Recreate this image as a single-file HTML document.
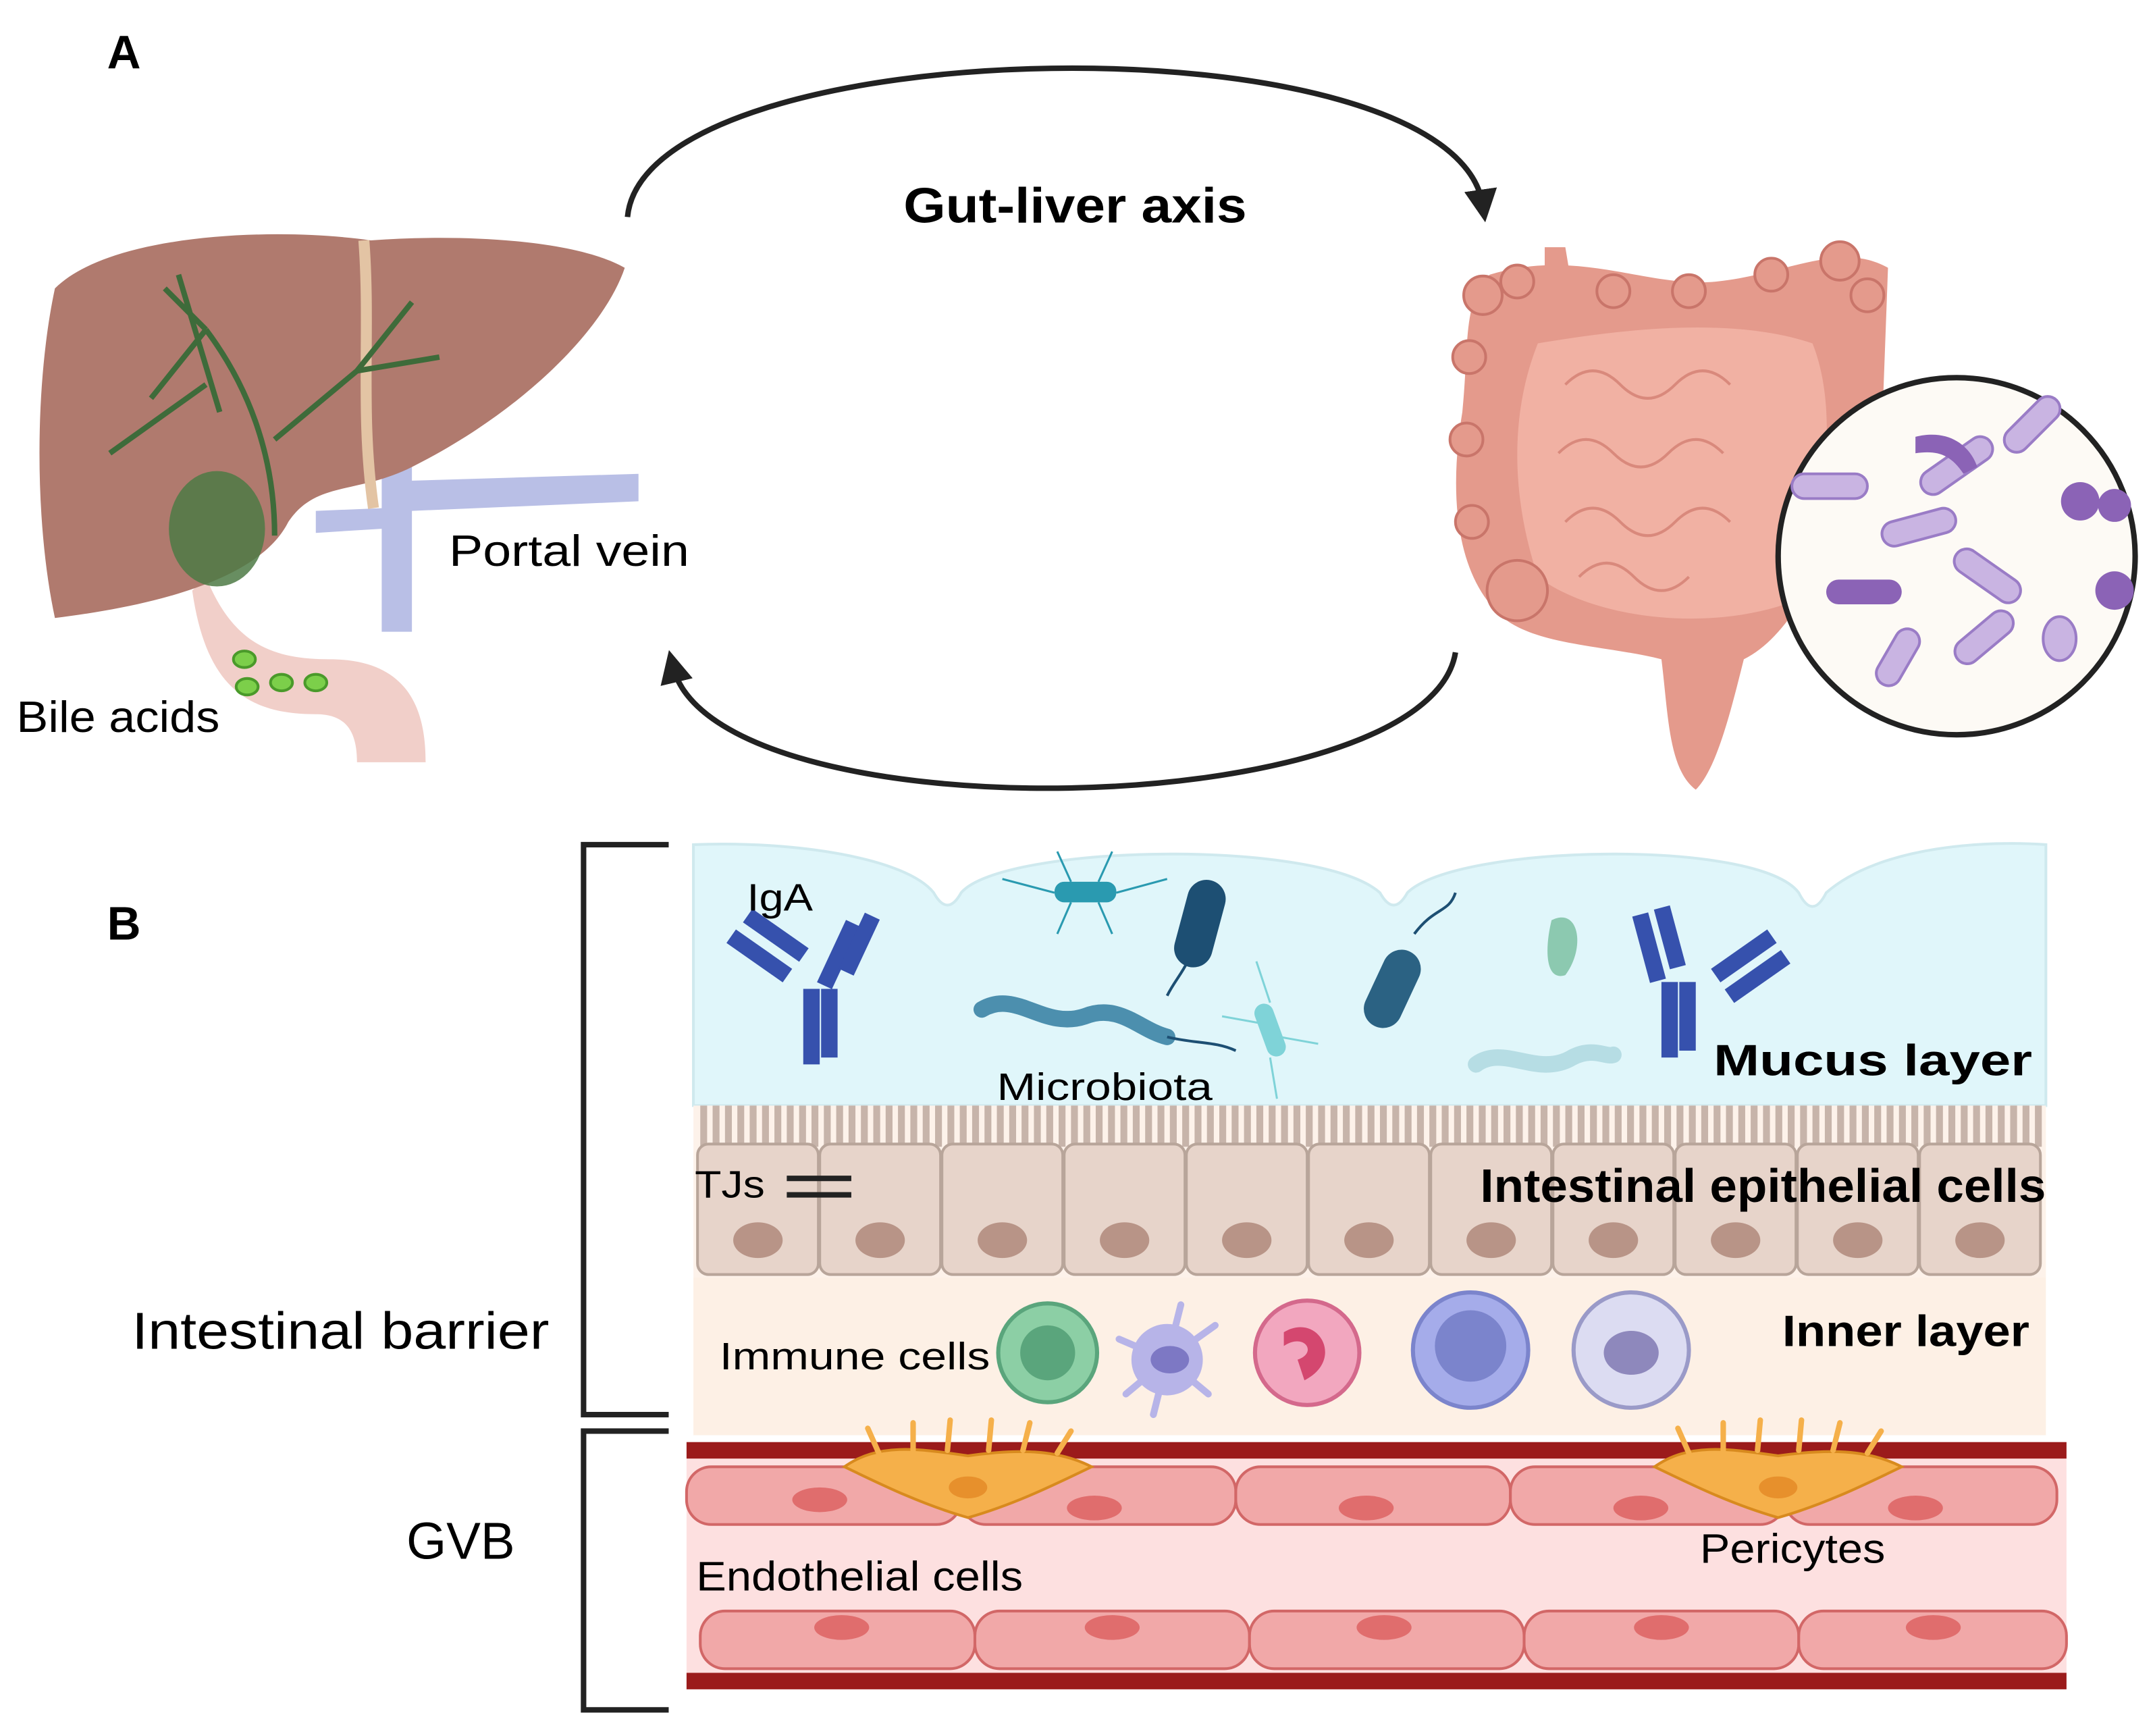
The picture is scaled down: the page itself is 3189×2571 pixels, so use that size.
<!DOCTYPE html>
<html><head><meta charset="utf-8"><style>html,body{margin:0;padding:0;background:#fff}svg{display:block}text{font-family:"Liberation Sans",sans-serif}</style></head><body>
<svg width="3189" height="2571" viewBox="0 0 1568 1264" preserveAspectRatio="none" xmlns="http://www.w3.org/2000/svg">
<defs>
<marker id="ah" markerWidth="6" markerHeight="6" refX="3" refY="3" orient="auto" markerUnits="strokeWidth"><path d="M0,0 L6,3 L0,6 Z" fill="#222"/></marker>
</defs>
<rect width="1568" height="1264" fill="#fff"/>
<!-- Panel A -->
<text x="78" y="50" font-size="34" font-weight="bold">A</text>
<path d="M457,158 C470,20 1060,10 1080,150" fill="none" stroke="#222" stroke-width="4" marker-end="url(#ah)"/>
<text x="658" y="162" font-size="36" font-weight="bold" textLength="250" lengthAdjust="spacingAndGlyphs">Gut-liver axis</text>
<path d="M1060,475 C1040,600 520,610 490,485" fill="none" stroke="#222" stroke-width="4" marker-end="url(#ah)"/>
<!-- duodenum -->
<path d="M150,420 C170,470 200,480 240,480 C300,480 310,520 310,555 L260,555 C260,530 250,520 230,520 C180,520 150,500 140,430 Z" fill="#f1cfc9"/>
<!-- portal vein -->
<path d="M278,330 L300,330 L300,350 L465,345 L465,365 L300,372 L300,460 L278,460 L278,385 L230,388 L230,372 L278,370 Z" fill="#b9bfe6"/>
<!-- liver -->
<path d="M40,210 C80,170 200,165 270,175 C340,170 420,175 455,195 C440,240 380,300 300,340 C260,360 230,350 210,380 C190,420 120,440 40,450 C25,380 25,280 40,210 Z" fill="#b07a6e"/>
<path d="M265,175 C270,240 262,300 272,370" stroke="#e3c4a4" stroke-width="8" fill="none"/>
<g stroke="#3e6b3a" stroke-width="4" fill="none">
<path d="M200,390 C200,330 180,280 150,240 M150,240 L120,210 M150,240 L110,290 M150,280 L80,330 M200,320 L260,270 L320,260 M260,270 L300,220 M160,300 L130,200"/>
</g>
<ellipse cx="158" cy="385" rx="35" ry="42" fill="#4d7a45" opacity="0.85"/>
<g fill="#7ccf4a" stroke="#4a9a2a" stroke-width="2">
<ellipse cx="178" cy="480" rx="8" ry="6"/><ellipse cx="180" cy="500" rx="8" ry="6"/><ellipse cx="205" cy="497" rx="8" ry="6"/><ellipse cx="230" cy="497" rx="8" ry="6"/></g>
<text x="327" y="412" font-size="32" textLength="175" lengthAdjust="spacingAndGlyphs">Portal vein</text>
<text x="12" y="533" font-size="32" textLength="148" lengthAdjust="spacingAndGlyphs">Bile acids</text>
<!-- intestines -->
<path d="M1085,200 C1150,180 1200,210 1250,205 C1300,200 1340,175 1375,195 L1370,330 C1330,400 1310,460 1270,480 C1260,520 1250,560 1235,575 C1215,560 1215,520 1210,480 C1170,470 1120,470 1095,450 C1060,420 1055,360 1065,300 C1070,250 1065,220 1085,200 Z" fill="#e49a8c"/>
<path d="M1120,250 C1180,240 1260,230 1320,250 C1340,300 1330,380 1300,440 C1240,460 1160,450 1120,420 C1100,360 1100,300 1120,250 Z" fill="#f1b1a3"/>
<g fill="#e49a8c" stroke="#c9756a" stroke-width="2">
<circle cx="1080" cy="215" r="14"/><circle cx="1105" cy="205" r="12"/><circle cx="1175" cy="212" r="12"/><circle cx="1230" cy="212" r="12"/><circle cx="1290" cy="200" r="12"/><circle cx="1340" cy="190" r="14"/><circle cx="1360" cy="215" r="12"/><circle cx="1070" cy="260" r="12"/><circle cx="1068" cy="320" r="12"/><circle cx="1072" cy="380" r="12"/><circle cx="1105" cy="430" r="22"/></g>
<g fill="none" stroke="#d9897c" stroke-width="2"><path d="M1140,280 q20,-20 40,0 t40,0 t40,0 M1135,330 q20,-20 40,0 t40,0 t40,0 M1140,380 q20,-20 40,0 t40,0 t40,0 M1150,420 q20,-20 40,0 t40,0"/></g>
<path d="M1125,180 L1140,180 L1145,210 L1125,210 Z" fill="#e49a8c"/>
<circle cx="1425" cy="405" r="130" fill="#fdfaf5" stroke="#222" stroke-width="4"/>
<g fill="#c9b4e2" stroke="#9a7cc6" stroke-width="2">
<rect x="1395" y="330" width="60" height="18" rx="9" transform="rotate(-35 1425 339)"/>
<rect x="1370" y="375" width="55" height="18" rx="9" transform="rotate(-15 1397 384)"/>
<rect x="1420" y="410" width="55" height="18" rx="9" transform="rotate(35 1447 419)"/>
<rect x="1305" y="345" width="55" height="18" rx="9"/>
<rect x="1420" y="455" width="50" height="18" rx="9" transform="rotate(-40 1445 464)"/>
<rect x="1360" y="470" width="45" height="18" rx="9" transform="rotate(-60 1382 479)"/>
<rect x="1455" y="300" width="50" height="18" rx="9" transform="rotate(-45 1480 309)"/>
<ellipse cx="1500" cy="465" rx="12" ry="16"/></g>
<g fill="#8b63b6"><rect x="1330" y="422" width="55" height="18" rx="9"/><path d="M1395,318 C1420,312 1435,325 1440,340 L1430,345 C1420,330 1410,328 1395,330 Z"/><circle cx="1515" cy="365" r="14"/><circle cx="1540" cy="368" r="12"/><circle cx="1540" cy="430" r="14"/></g>
<!-- Panel B -->
<text x="78" y="684" font-size="34" font-weight="bold">B</text>
<!-- mucus -->
<path d="M505,615 C580,612 660,625 680,650 Q690,668 700,650 C730,615 960,610 1005,650 Q1015,668 1025,650 C1060,615 1280,610 1310,650 Q1320,670 1330,650 C1370,615 1450,612 1490,615 L1490,805 L505,805 Z" fill="#e0f6fa" stroke="#cfe9ee" stroke-width="2"/>
<!-- bacteria -->
<g fill="#2a9ab0"><rect x="768" y="642" width="45" height="15" rx="7"/></g>
<g stroke="#2a9ab0" stroke-width="1.5"><path d="M768,650 L730,640 M813,650 L850,640 M780,642 L770,620 M800,642 L810,620 M780,657 L770,680 M800,657 L810,680"/></g>
<rect x="860" y="640" width="28" height="65" rx="14" fill="#1d4f73" transform="rotate(15 874 672)"/>
<rect x="1000" y="690" width="28" height="60" rx="14" fill="#2b6283" transform="rotate(25 1014 720)"/>
<rect x="918" y="730" width="14" height="40" rx="7" fill="#7fd3d8" transform="rotate(-20 925 750)"/>
<g stroke="#7fd3d8" stroke-width="1.5"><path d="M925,730 L915,700 M925,770 L930,800 M918,745 L890,740 M932,755 L960,760"/></g>
<path d="M1130,670 C1150,660 1155,690 1140,710 C1125,715 1125,690 1130,670 Z" fill="#8cc9b0"/>
<path d="M715,735 C740,720 760,750 790,740 C815,730 830,750 850,755" stroke="#4c8fae" stroke-width="12" fill="none" stroke-linecap="round"/>
<path d="M1075,775 C1095,760 1120,785 1145,770 C1160,762 1170,770 1175,768" stroke="#b6dde4" stroke-width="12" fill="none" stroke-linecap="round"/>
<g stroke="#1d4f73" stroke-width="2" fill="none"><path d="M865,700 C860,710 855,715 850,725"/><path d="M1030,680 C1045,660 1055,665 1060,650"/><path d="M850,755 C870,760 885,758 900,765"/></g>
<!-- IgA -->
<g fill="#3651ad">
<rect x="585" y="720" width="12" height="55"/><rect x="598" y="720" width="12" height="50"/>
<rect x="528" y="690" width="50" height="12" transform="rotate(35 553 696)"/><rect x="540" y="675" width="50" height="12" transform="rotate(35 565 681)"/>
<rect x="605" y="670" width="12" height="50" transform="rotate(25 611 695)"/><rect x="620" y="665" width="12" height="45" transform="rotate(25 626 687)"/>
<rect x="1210" y="715" width="12" height="55"/><rect x="1223" y="715" width="12" height="50"/>
<rect x="1195" y="665" width="12" height="50" transform="rotate(-15 1201 690)"/><rect x="1210" y="660" width="12" height="45" transform="rotate(-15 1216 682)"/>
<rect x="1245" y="690" width="50" height="12" transform="rotate(-35 1270 696)"/><rect x="1255" y="705" width="50" height="12" transform="rotate(-35 1280 711)"/>
</g>
<text x="544" y="663" font-size="28" textLength="48" lengthAdjust="spacingAndGlyphs">IgA</text>
<text x="726" y="801" font-size="28" textLength="157" lengthAdjust="spacingAndGlyphs">Microbiota</text>
<text x="1248" y="783" font-size="32" font-weight="bold" textLength="232" lengthAdjust="spacingAndGlyphs">Mucus layer</text>
<!-- epithelium -->
<rect x="505" y="805" width="985" height="125" fill="#fdf2ea"/>
<path d="M510,820 L1488,820" stroke="#c7b4aa" stroke-width="30" stroke-dasharray="5,4"/>
<g fill="#e7d4ca" stroke="#b8a59a" stroke-width="2">
<rect x="508" y="833" width="88" height="95" rx="8"/><rect x="597" y="833" width="88" height="95" rx="8"/><rect x="686" y="833" width="88" height="95" rx="8"/><rect x="775" y="833" width="88" height="95" rx="8"/><rect x="864" y="833" width="88" height="95" rx="8"/><rect x="953" y="833" width="88" height="95" rx="8"/><rect x="1042" y="833" width="88" height="95" rx="8"/><rect x="1131" y="833" width="88" height="95" rx="8"/><rect x="1220" y="833" width="88" height="95" rx="8"/><rect x="1309" y="833" width="88" height="95" rx="8"/><rect x="1398" y="833" width="88" height="95" rx="8"/>
</g>
<g fill="#b89487">
<ellipse cx="552" cy="903" rx="18" ry="13"/><ellipse cx="641" cy="903" rx="18" ry="13"/><ellipse cx="730" cy="903" rx="18" ry="13"/><ellipse cx="819" cy="903" rx="18" ry="13"/><ellipse cx="908" cy="903" rx="18" ry="13"/><ellipse cx="997" cy="903" rx="18" ry="13"/><ellipse cx="1086" cy="903" rx="18" ry="13"/><ellipse cx="1175" cy="903" rx="18" ry="13"/><ellipse cx="1264" cy="903" rx="18" ry="13"/><ellipse cx="1353" cy="903" rx="18" ry="13"/><ellipse cx="1442" cy="903" rx="18" ry="13"/></g>
<text x="506" y="872" font-size="28" textLength="51" lengthAdjust="spacingAndGlyphs">TJs</text>
<path d="M573,858 L620,858 M573,870 L620,870" stroke="#222" stroke-width="4"/>
<text x="1078" y="875" font-size="34" font-weight="bold" textLength="412" lengthAdjust="spacingAndGlyphs">Intestinal epithelial cells</text>
<!-- inner layer -->
<rect x="505" y="930" width="985" height="115" fill="#fdf0e5"/>
<text x="524" y="997" font-size="28" textLength="197" lengthAdjust="spacingAndGlyphs">Immune cells</text>
<circle cx="763" cy="985" r="36" fill="#8ccfa5" stroke="#5aa57c" stroke-width="3"/><circle cx="763" cy="985" r="20" fill="#5aa57c"/>
<g stroke="#b7b4e8" stroke-width="5" stroke-linecap="round"><path d="M850,990 L815,975 M850,990 L820,1015 M850,990 L860,950 M850,990 L885,965 M850,990 L880,1015 M850,990 L840,1030"/></g>
<circle cx="850" cy="990" r="26" fill="#b7b4e8"/><ellipse cx="852" cy="990" rx="14" ry="10" fill="#7d78c4"/>
<circle cx="952" cy="985" r="38" fill="#f2a7bf" stroke="#d4698c" stroke-width="3"/><path d="M935,970 C960,955 980,990 950,1005 L945,990 C960,985 950,970 935,980 Z" fill="#d4476f"/>
<circle cx="1071" cy="983" r="42" fill="#a5acea" stroke="#7b84cc" stroke-width="3"/><circle cx="1071" cy="980" r="26" fill="#7b84cc"/>
<circle cx="1188" cy="983" r="42" fill="#dcdcf2" stroke="#9a9ac8" stroke-width="3"/><ellipse cx="1188" cy="985" rx="20" ry="16" fill="#8e88bc"/>
<text x="1298" y="980" font-size="32" font-weight="bold" textLength="180" lengthAdjust="spacingAndGlyphs">Inner layer</text>
<!-- vessel -->
<rect x="500" y="1050" width="1005" height="180" fill="#fde0e0"/>
<rect x="500" y="1050" width="1005" height="12" fill="#9b1b1b"/>
<rect x="500" y="1218" width="1005" height="12" fill="#9b1b1b"/>
<g fill="#f1a8a8" stroke="#d26767" stroke-width="2">
<rect x="500" y="1068" width="200" height="42" rx="18"/>
<rect x="700" y="1068" width="200" height="42" rx="18"/>
<rect x="900" y="1068" width="200" height="42" rx="18"/>
<rect x="1100" y="1068" width="200" height="42" rx="18"/>
<rect x="1300" y="1068" width="198" height="42" rx="18"/>
<rect x="510" y="1173" width="200" height="42" rx="18"/>
<rect x="710" y="1173" width="200" height="42" rx="18"/>
<rect x="910" y="1173" width="200" height="42" rx="18"/>
<rect x="1110" y="1173" width="200" height="42" rx="18"/>
<rect x="1310" y="1173" width="195" height="42" rx="18"/>
</g>
<g fill="#e06d6d"><ellipse cx="597" cy="1092" rx="20" ry="9"/><ellipse cx="797" cy="1098" rx="20" ry="9"/><ellipse cx="995" cy="1098" rx="20" ry="9"/><ellipse cx="1195" cy="1098" rx="20" ry="9"/><ellipse cx="1395" cy="1098" rx="20" ry="9"/>
<ellipse cx="613" cy="1185" rx="20" ry="9"/><ellipse cx="810" cy="1185" rx="20" ry="9"/><ellipse cx="1008" cy="1185" rx="20" ry="9"/><ellipse cx="1210" cy="1185" rx="20" ry="9"/><ellipse cx="1408" cy="1185" rx="20" ry="9"/></g>
<g fill="#f5b04a" stroke="#d88a1e" stroke-width="2">
<path d="M615,1068 C640,1050 670,1055 705,1060 C740,1055 770,1055 795,1068 C770,1080 740,1095 705,1105 C670,1095 640,1080 615,1068 Z"/>
<path d="M1205,1068 C1230,1050 1260,1055 1295,1060 C1330,1055 1360,1055 1385,1068 C1360,1080 1330,1095 1295,1105 C1260,1095 1230,1080 1205,1068 Z"/>
</g>
<g stroke="#f5b04a" stroke-width="4" stroke-linecap="round"><path d="M640,1058 L632,1040 M665,1056 L665,1036 M690,1056 L692,1034 M720,1056 L722,1034 M745,1056 L750,1036 M770,1058 L780,1042 M1230,1058 L1222,1040 M1255,1056 L1255,1036 M1280,1056 L1282,1034 M1310,1056 L1312,1034 M1335,1056 L1340,1036 M1360,1058 L1370,1042"/></g>
<ellipse cx="705" cy="1083" rx="14" ry="8" fill="#e7902c"/><ellipse cx="1295" cy="1083" rx="14" ry="8" fill="#e7902c"/>
<text x="507" y="1158" font-size="30" textLength="238" lengthAdjust="spacingAndGlyphs">Endothelial cells</text>
<text x="1238" y="1138" font-size="30" textLength="135" lengthAdjust="spacingAndGlyphs">Pericytes</text>
<!-- brackets -->
<path d="M487,615 L425,615 L425,1030 L487,1030" fill="none" stroke="#222" stroke-width="4"/>
<path d="M487,1042 L425,1042 L425,1245 L487,1245" fill="none" stroke="#222" stroke-width="4"/>
<text x="96" y="982" font-size="38" textLength="304" lengthAdjust="spacingAndGlyphs">Intestinal barrier</text>
<text x="296" y="1135" font-size="38" textLength="79" lengthAdjust="spacingAndGlyphs">GVB</text>
</svg>
</body></html>
